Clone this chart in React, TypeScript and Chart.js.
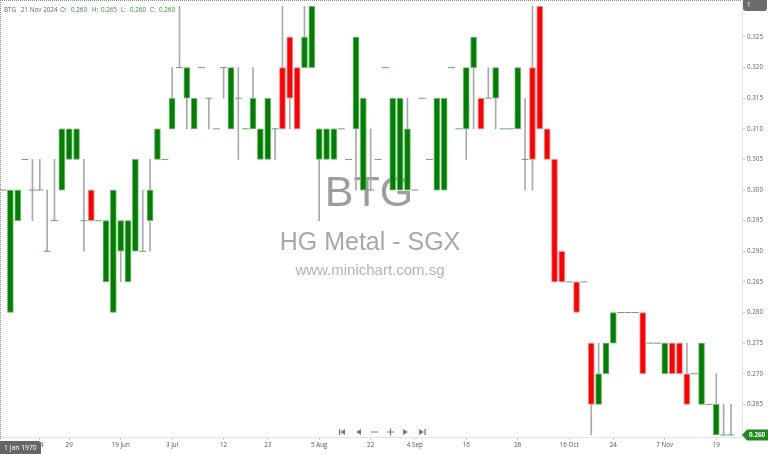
import { useEffect, useRef } from 'react';
import { Chart, registerables } from 'chart.js';

Chart.register(...registerables);

// daily OHLC, oldest -> 21 Nov 2024
const OPEN = [
  0.300, 0.280, 0.295, 0.305, 0.300, 0.300, 0.290, 0.295, 0.300, 0.305,
  0.305, 0.295, 0.300, 0.295, 0.285, 0.280, 0.290, 0.285, 0.290, 0.290,
  0.295, 0.305, 0.305, 0.310, 0.320, 0.315, 0.310, 0.320, 0.315, 0.310,
  0.320, 0.310, 0.315, 0.310, 0.310, 0.305, 0.305, 0.310, 0.320, 0.325,
  0.320, 0.320, 0.320, 0.305, 0.305, 0.305, 0.310, 0.305, 0.310, 0.300,
  0.300, 0.305, 0.320, 0.300, 0.300, 0.300, 0.300, 0.315, 0.305, 0.300,
  0.300, 0.320, 0.310, 0.310, 0.320, 0.315, 0.315, 0.315, 0.310, 0.310,
  0.310, 0.305, 0.320, 0.330, 0.310, 0.305, 0.290, 0.285, 0.285, 0.285,
  0.275, 0.265, 0.270, 0.275, 0.280, 0.280, 0.280, 0.280, 0.275, 0.275,
  0.270, 0.275, 0.275, 0.270, 0.270, 0.265, 0.265, 0.260, 0.260, 0.260,
];
const HIGH = [
  0.300, 0.300, 0.300, 0.305, 0.305, 0.305, 0.300, 0.305, 0.310, 0.310,
  0.310, 0.305, 0.300, 0.295, 0.295, 0.300, 0.295, 0.295, 0.305, 0.300,
  0.305, 0.310, 0.305, 0.320, 0.330, 0.320, 0.315, 0.320, 0.315, 0.310,
  0.320, 0.320, 0.320, 0.310, 0.320, 0.310, 0.315, 0.310, 0.330, 0.325,
  0.320, 0.330, 0.330, 0.310, 0.310, 0.310, 0.310, 0.305, 0.325, 0.315,
  0.310, 0.305, 0.320, 0.315, 0.315, 0.315, 0.300, 0.315, 0.305, 0.315,
  0.315, 0.320, 0.310, 0.320, 0.325, 0.315, 0.320, 0.320, 0.310, 0.310,
  0.320, 0.315, 0.330, 0.330, 0.310, 0.305, 0.290, 0.285, 0.285, 0.285,
  0.275, 0.275, 0.275, 0.280, 0.280, 0.280, 0.280, 0.280, 0.275, 0.275,
  0.275, 0.275, 0.275, 0.275, 0.270, 0.275, 0.265, 0.270, 0.265, 0.265,
];
const LOW = [
  0.300, 0.280, 0.295, 0.305, 0.295, 0.300, 0.290, 0.295, 0.300, 0.305,
  0.305, 0.290, 0.295, 0.295, 0.285, 0.280, 0.285, 0.285, 0.290, 0.290,
  0.290, 0.305, 0.305, 0.310, 0.320, 0.310, 0.310, 0.320, 0.310, 0.310,
  0.315, 0.310, 0.305, 0.310, 0.310, 0.305, 0.305, 0.305, 0.310, 0.310,
  0.310, 0.320, 0.320, 0.295, 0.305, 0.305, 0.310, 0.305, 0.300, 0.300,
  0.300, 0.305, 0.320, 0.300, 0.300, 0.300, 0.300, 0.315, 0.305, 0.300,
  0.300, 0.320, 0.310, 0.305, 0.310, 0.310, 0.315, 0.310, 0.310, 0.310,
  0.310, 0.300, 0.300, 0.310, 0.305, 0.285, 0.285, 0.285, 0.280, 0.285,
  0.260, 0.265, 0.270, 0.275, 0.280, 0.280, 0.280, 0.270, 0.275, 0.275,
  0.270, 0.270, 0.270, 0.265, 0.270, 0.265, 0.265, 0.260, 0.260, 0.260,
];
const CLOSE = [
  0.300, 0.300, 0.300, 0.305, 0.300, 0.300, 0.290, 0.295, 0.310, 0.310,
  0.310, 0.295, 0.295, 0.295, 0.295, 0.300, 0.295, 0.295, 0.305, 0.290,
  0.300, 0.310, 0.305, 0.315, 0.320, 0.320, 0.315, 0.320, 0.315, 0.310,
  0.320, 0.320, 0.315, 0.310, 0.315, 0.310, 0.315, 0.310, 0.310, 0.315,
  0.310, 0.325, 0.330, 0.310, 0.310, 0.310, 0.310, 0.305, 0.325, 0.315,
  0.300, 0.305, 0.320, 0.315, 0.315, 0.310, 0.300, 0.315, 0.305, 0.315,
  0.315, 0.320, 0.310, 0.320, 0.325, 0.310, 0.315, 0.320, 0.310, 0.310,
  0.320, 0.305, 0.305, 0.310, 0.305, 0.285, 0.285, 0.285, 0.280, 0.285,
  0.265, 0.270, 0.275, 0.280, 0.280, 0.280, 0.280, 0.270, 0.275, 0.275,
  0.275, 0.270, 0.270, 0.265, 0.270, 0.275, 0.265, 0.265, 0.260, 0.260,
];

// date labels, at the bar index they sit under
const TICK_POS = [5, 9, 16, 23, 30, 36, 43, 50, 56, 63, 70, 77, 83, 90, 97];
const TICK_TEXT = ['24', '29', '19 Jun', '3 Jul', '12', '23', '5 Aug', '22', '4 Sep', '16', '26', '16 Oct', '24', '7 Nov', '19'];
const PRICE_TICKS = [0.265, 0.27, 0.275, 0.28, 0.285, 0.29, 0.295, 0.3, 0.305, 0.31, 0.315, 0.32, 0.325];

const UP = '#008000';
const UP_EDGE = '#74b874';
const DOWN = '#ff0000';
const DOWN_EDGE = '#ff8a8a';
const SMALL = '6.3px "Open Sans"';

const decor = {
  id: 'decor',
  beforeDatasetsDraw(chart: Chart) {
    const { ctx, chartArea } = chart;
    const cx = (chartArea.left + chartArea.right) / 2;
    ctx.save();
    ctx.textAlign = 'center';
    ctx.textBaseline = 'alphabetic';
    ctx.fillStyle = '#9d9d9d';
    ctx.font = '43px "Liberation Sans"';
    ctx.fillText('BTG', cx - 2, 206);
    ctx.fillStyle = '#a8a8a8';
    ctx.font = '25px "Liberation Sans"';
    ctx.fillText('HG Metal - SGX', cx - 1, 250);
    ctx.fillStyle = '#b3b3b3';
    ctx.font = '15px "Liberation Sans"';
    ctx.fillText('www.minichart.com.sg', cx - 1, 275);
    ctx.restore();
  },
  afterDraw(chart: Chart) {
    const { ctx, chartArea } = chart;
    const yScale = chart.scales.y;
    ctx.save();

    // dotted frame
    ctx.strokeStyle = '#8a8a8a';
    ctx.lineWidth = 1;
    ctx.setLineDash([1, 1]);
    ctx.beginPath();
    ctx.moveTo(0, 0.5);
    ctx.lineTo(chartArea.right, 0.5);
    ctx.moveTo(0.5, 0);
    ctx.lineTo(0.5, chartArea.bottom + 3);
    ctx.stroke();
    ctx.setLineDash([]);

    // header line
    ctx.font = SMALL;
    ctx.textBaseline = 'middle';
    const head: [string, number, string][] = [
      ['BTG', 4, '#666'], ['21 Nov 2024', 21, '#666'],
      ['O:', 60, '#666'], ['0.260', 71, '#2f9e2f'],
      ['H:', 92, '#666'], ['0.265', 101, '#2f9e2f'],
      ['L:', 121, '#666'], ['0.260', 130, '#2f9e2f'],
      ['C:', 150, '#666'], ['0.260', 159, '#2f9e2f'],
    ];
    head.forEach(([t, x, c]) => {
      ctx.fillStyle = c;
      ctx.fillText(t, x, 10);
    });

    // top-right box
    ctx.fillStyle = '#6b6b6b';
    ctx.beginPath();
    ctx.roundRect(chartArea.right + 1, 0, 24, 11, [0, 0, 3, 3]);
    ctx.fill();
    ctx.fillStyle = '#fff';
    ctx.fillText('1', chartArea.right + 5, 5.5);

    // last price tag
    const py = yScale.getPixelForValue(CLOSE[CLOSE.length - 1]);
    const tx = chartArea.right + 2;
    ctx.fillStyle = '#1f8a1f';
    ctx.beginPath();
    ctx.moveTo(tx - 2, py);
    ctx.lineTo(tx + 3, py - 5.5);
    ctx.lineTo(768, py - 5.5);
    ctx.lineTo(768, py + 5.5);
    ctx.lineTo(tx + 3, py + 5.5);
    ctx.closePath();
    ctx.fill();
    ctx.fillStyle = '#fff';
    ctx.font = 'bold ' + SMALL;
    ctx.fillText('0.260', tx + 5, py);

    // date box bottom-left
    ctx.fillStyle = '#666';
    ctx.beginPath();
    ctx.roundRect(0, chartArea.bottom + 4, 41, 14, [0, 3, 0, 0]);
    ctx.fill();
    ctx.fillStyle = '#fff';
    ctx.font = '6.8px "Open Sans"';
    ctx.fillText('1 Jan 1970', 4, chartArea.bottom + 11);

    // navigation icons
    const ny = 432;
    ctx.fillStyle = '#777';
    ctx.strokeStyle = '#777';
    ctx.lineWidth = 1.2;
    const tri = (x0: number, x1: number) => {
      ctx.beginPath();
      ctx.moveTo(x0, ny - 3);
      ctx.lineTo(x0, ny + 3);
      ctx.lineTo(x1, ny);
      ctx.closePath();
      ctx.fill();
    };
    ctx.fillRect(339, ny - 3, 1.3, 6);
    tri(345, 340.5);
    tri(361, 356);
    ctx.beginPath();
    ctx.moveTo(371, ny);
    ctx.lineTo(378, ny);
    ctx.moveTo(387, ny);
    ctx.lineTo(394, ny);
    ctx.moveTo(390.5, ny - 3.5);
    ctx.lineTo(390.5, ny + 3.5);
    ctx.stroke();
    tri(403, 408);
    tri(419, 424);
    ctx.fillRect(424.5, ny - 3, 1.3, 6);

    ctx.restore();
  },
};

export default function App() {
  const canvasRef = useRef<HTMLCanvasElement>(null);

  useEffect(() => {
    document.body.style.margin = '0';
    if (!canvasRef.current) return;

    const idx = OPEN.map((_, i) => i);
    const wickData = idx.filter(i => HIGH[i] > LOW[i]).map(i => ({ x: i, y: [LOW[i], HIGH[i]] }));
    const bodyIdx = idx.filter(i => OPEN[i] !== CLOSE[i]);
    const bodyData = bodyIdx.map(i => ({ x: i, y: [OPEN[i], CLOSE[i]] }));
    const flatData = idx.filter(i => OPEN[i] === CLOSE[i]).map(i => ({ x: i, y: CLOSE[i] }));

    const chart = new Chart(canvasRef.current, {
      type: 'bar',
      data: {
        datasets: [
          {
            type: 'bar',
            data: wickData as any,
            backgroundColor: '#a9a9a9',
            barThickness: 1,
            grouped: false,
            order: 3,
          },
          {
            type: 'bar',
            data: bodyData as any,
            backgroundColor: bodyIdx.map(i => (CLOSE[i] > OPEN[i] ? UP : DOWN)),
            borderColor: bodyIdx.map(i => (CLOSE[i] > OPEN[i] ? UP_EDGE : DOWN_EDGE)),
            borderWidth: 1,
            borderSkipped: false,
            barThickness: 6,
            grouped: false,
            order: 2,
          },
          {
            type: 'line',
            data: flatData as any,
            showLine: false,
            pointStyle: 'line',
            pointRadius: 3.5,
            pointBorderWidth: 1,
            pointBorderColor: '#5fae5f',
            clip: false,
            order: 1,
          },
        ],
      },
      options: {
        responsive: true,
        maintainAspectRatio: false,
        animation: false,
        events: [],
        layout: { padding: 0, autoPadding: false },
        plugins: { legend: { display: false }, tooltip: { enabled: false } },
        scales: {
          x: {
            type: 'linear',
            min: -0.41,
            max: 100.5,
            offset: false,
            afterFit: (s: any) => {
              s.height = 17;
              s.paddingLeft = 0;
              s.paddingRight = 0;
            },
            afterBuildTicks: (s: any) => { s.ticks = TICK_POS.map(v => ({ value: v })); },
            grid: { offset: false, drawOnChartArea: false, drawTicks: true, tickLength: 3, color: '#c8c8c8' },
            border: { color: '#e2e2e2' },
            ticks: {
              autoSkip: false,
              maxRotation: 0,
              padding: 1,
              color: '#555',
              font: { family: 'Open Sans', size: 6.3 },
              callback: (v: any) => {
                const k = TICK_POS.indexOf(Number(v));
                return k >= 0 ? TICK_TEXT[k] : '';
              },
            },
          },
          y: {
            type: 'linear',
            position: 'right',
            min: 0.25967,
            max: 0.33104,
            afterFit: (s: any) => {
              s.width = 26;
              s.paddingTop = 0;
              s.paddingBottom = 0;
            },
            afterBuildTicks: (s: any) => { s.ticks = PRICE_TICKS.map(v => ({ value: v })); },
            grid: { drawOnChartArea: false, drawTicks: true, tickLength: 3, color: '#c8c8c8' },
            border: { color: '#e2e2e2' },
            ticks: {
              padding: 2,
              color: '#666',
              font: { family: 'Open Sans', size: 6.3 },
              callback: (v: any) => Number(v).toFixed(3),
            },
          },
        },
      },
      plugins: [decor],
    });

    return () => chart.destroy();
  }, []);

  return (
    <div style={{ position: 'relative', width: 768, height: 454, background: '#fff' }}>
      <canvas ref={canvasRef} />
    </div>
  );
}
